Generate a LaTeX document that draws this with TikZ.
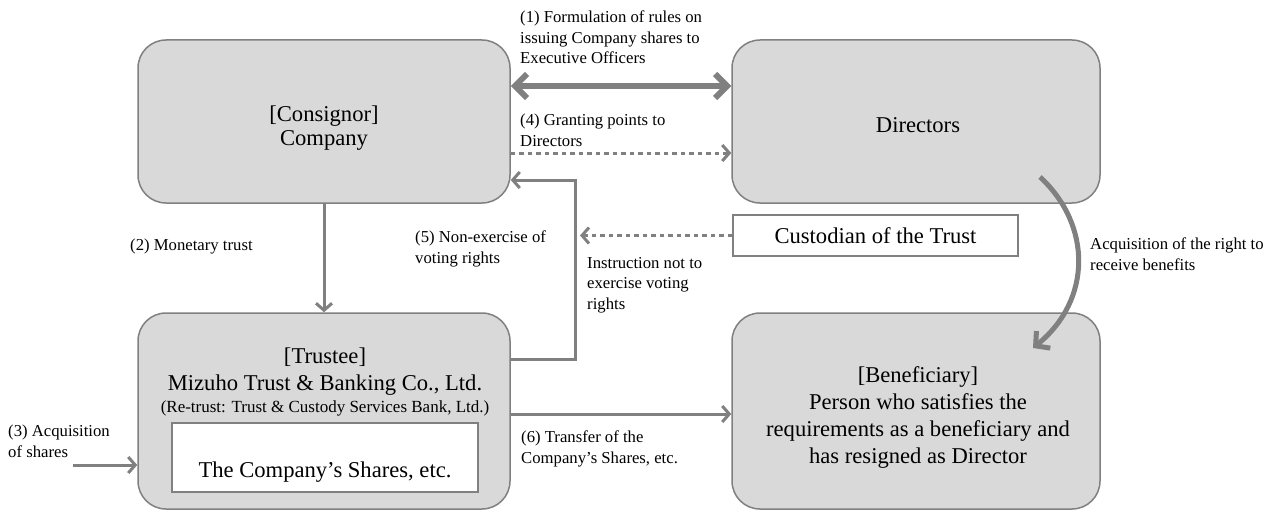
\documentclass[tikz,border=0pt]{standalone}
\usepackage{fontspec}
\setmainfont{Liberation Serif}
\usetikzlibrary{arrows.meta}
\definecolor{ln}{RGB}{128,128,128}
\definecolor{boxfill}{RGB}{217,217,217}
\begin{document}
\begin{tikzpicture}[x=1pt,y=-1pt,
  bigbox/.style={draw=ln, line width=1.5pt, fill=boxfill, rounded corners=28pt, inner sep=0pt},
  whitebox/.style={draw=ln, line width=2pt, fill=white, inner sep=0pt},
  bigtxt/.style={font=\fontsize{22.6}{26.7}\selectfont, align=center, inner sep=0pt},
  midtxt/.style={font=\fontsize{17}{20}\selectfont, inner sep=0pt},
  lbl/.style={font=\fontsize{16.7}{20.5}\selectfont, align=left, inner sep=0pt, anchor=base west},
  conn/.style={draw=ln, line width=3pt, -{Straight Barb[length=7pt,width=16pt]}},
  dotconn/.style={conn, dash pattern=on 4.5pt off 4pt},
  dblconn/.style={draw=ln, line width=6pt, {Straight Barb[length=12pt,width=24pt]}-{Straight Barb[length=12pt,width=24pt]}},
  curveconn/.style={draw=ln, line width=5pt, -{Straight Barb[length=10pt,width=22pt]}}
]
\useasboundingbox (0,0) rectangle (1276,511);

% boxes
\node[bigbox, minimum width=372pt, minimum height=163pt] (company) at (324,121.5) {};
\node[bigbox, minimum width=368pt, minimum height=163pt] (directors) at (916,121.5) {};
\node[bigbox, minimum width=372pt, minimum height=196pt] (trustee) at (324,411) {};
\node[bigbox, minimum width=368pt, minimum height=196pt] (benef) at (916,411) {};
\node[whitebox, minimum width=306pt, minimum height=69pt] (shares) at (325,457.5) {};
\node[whitebox, minimum width=285pt, minimum height=41pt] (custodian) at (875.5,235.5) {};

% box texts (base anchor = last line)
\node[bigtxt, font=\fontsize{22.6}{23.5}\selectfont, anchor=base] (companytxt) at (324,145) {[Consignor]\\Company};
\node[bigtxt, anchor=base] (directorstxt) at (918,132) {Directors};
\node[bigtxt, anchor=base] (trusteetxt) at (325,390) {[Trustee]\\Mizuho Trust \& Banking Co., Ltd.};
\node[midtxt, anchor=base] (retrusttxt) at (325,412) {(Re-trust: Trust \& Custody Services Bank, Ltd.)};
\node[bigtxt, anchor=base] (sharestxt) at (325,477) {The Company’s Shares, etc.};
\node[bigtxt, anchor=base] (beneftxt) at (918,463) {[Beneficiary]\\Person who satisfies the\\requirements as a beneficiary and\\has resigned as Director};
\node[bigtxt, anchor=base] (custtxt) at (875.5,243) {Custodian of the Trust};

% labels (base anchor = last line)
\node[lbl] (l1) at (520,63.5) {(1) Formulation of rules on\\issuing Company shares to\\Executive Officers};
\node[lbl] (l4) at (520,146) {(4) Granting points to\\Directors};
\node[lbl] (l2) at (130,250) {(2) Monetary trust};
\node[lbl] (l5) at (415,263) {(5) Non-exercise of\\voting rights};
\node[lbl] (linstr) at (587,309) {Instruction not to\\exercise voting\\rights};
\node[lbl] (l3) at (8,457) {(3) Acquisition\\of shares};
\node[lbl] (l6) at (521,463) {(6) Transfer of the\\Company’s Shares, etc.};
\node[lbl] (lacq) at (1090,270) {Acquisition of the right to\\receive benefits};

% connectors
\draw[dblconn] ([yshift=35.5pt]company.east) -- ([yshift=35.5pt]directors.west);
\draw[dotconn] ([yshift=-31.5pt]company.east) -- ([yshift=-31.5pt]directors.west);
\draw[conn] (company.south) -- (trustee.north);
\draw[conn] ([yshift=52pt]trustee.east) -- ++(65,0) |- ([yshift=-58.5pt]company.east);
\coordinate (vline) at (580,235.5);
\draw[dotconn] (custodian.west) -- (vline);
\draw[conn] ([yshift=-3pt]trustee.east) -- ([yshift=-3pt]benef.west);
\coordinate (acqstart) at (73,465);
\draw[conn] (acqstart) -- ([yshift=-54pt]trustee.west);
\coordinate (cstart) at (1040,177);
\coordinate (cend) at (1033,348);
\draw[curveconn] (cstart) .. controls (1092,225) and (1092,300) .. (cend);
\end{tikzpicture}
\end{document}
